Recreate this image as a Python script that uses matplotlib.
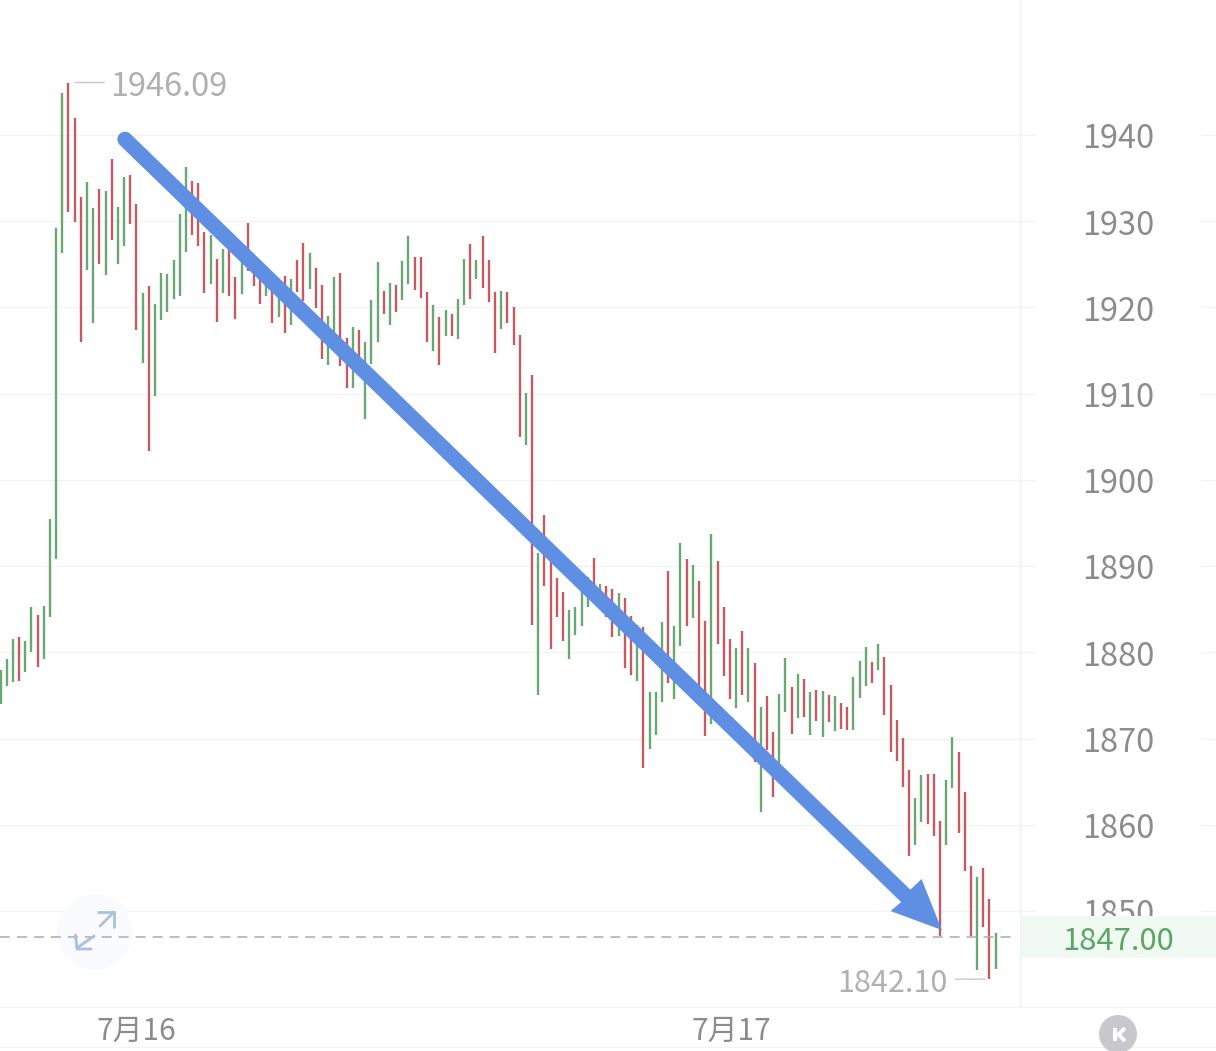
import matplotlib
matplotlib.use("Agg")
import matplotlib.pyplot as plt
from matplotlib.patches import Circle, Polygon, Rectangle
from matplotlib.transforms import Affine2D

plt.rcParams["font.family"] = ["Noto Sans CJK SC", "DejaVu Sans"]

# Precio: 162 barras de alto/bajo
highs = [
    1877.9, 1879.2, 1881.5, 1881.8, 1881.3, 1885.3, 1884.3, 1885.4, 1895.5, 1929.2,
    1944.9, 1946.09, 1942.0, 1932.8, 1934.6, 1931.5, 1933.7, 1933.5, 1937.2, 1931.7,
    1935.1, 1935.4, 1932.0, 1921.7, 1922.5, 1920.4, 1924.0, 1923.9, 1925.5, 1930.8,
    1936.3, 1934.7, 1934.4, 1928.8, 1928.4, 1925.6, 1926.8, 1926.8, 1923.5, 1925.3,
    1929.8, 1925.3, 1924.1, 1923.6, 1922.6, 1922.0, 1923.6, 1923.3, 1925.5, 1927.5,
    1926.3, 1924.6, 1922.6, 1919.0, 1923.5, 1924.0, 1916.5, 1917.7, 1917.4, 1916.0,
    1920.9, 1925.3, 1921.9, 1922.8, 1922.6, 1925.4, 1928.3, 1925.9, 1925.9, 1921.8,
    1920.3, 1918.9, 1919.7, 1919.2, 1921.0, 1925.6, 1927.4, 1925.5, 1928.3, 1925.5,
    1921.8, 1921.9, 1921.8, 1920.1, 1916.8, 1910.1, 1912.2, 1891.5, 1895.9, 1891.6,
    1888.6, 1887.0, 1884.9, 1885.3, 1887.8, 1888.7, 1890.9, 1887.9, 1887.7, 1887.4,
    1886.9, 1886.3, 1884.2, 1883.2, 1882.9, 1875.4, 1875.4, 1883.5, 1889.4, 1883.1,
    1892.7, 1890.8, 1890.1, 1888.3, 1883.6, 1893.7, 1890.6, 1885.3, 1881.6, 1880.5,
    1882.5, 1880.5, 1878.8, 1873.7, 1874.9, 1870.8, 1875.2, 1879.4, 1876.0, 1877.5,
    1876.9, 1875.4, 1875.6, 1875.5, 1875.1, 1874.9, 1874.1, 1873.7, 1877.1, 1879.0,
    1880.6, 1878.9, 1881.0, 1879.5, 1876.2, 1872.2, 1870.1, 1866.4, 1863.1, 1865.8,
    1865.9, 1865.9, 1860.4, 1865.2, 1870.2, 1868.4, 1863.8, 1855.2, 1853.9, 1855.0,
    1851.4, 1847.4,
]
lows = [
    1874.0, 1876.1, 1876.6, 1876.7, 1877.7, 1880.0, 1878.3, 1879.2, 1884.1, 1890.8,
    1926.3, 1931.1, 1929.9, 1916.0, 1924.3, 1918.2, 1925.0, 1923.8, 1927.8, 1925.0,
    1927.1, 1929.7, 1917.4, 1913.6, 1903.4, 1909.7, 1918.6, 1919.5, 1921.0, 1921.3,
    1926.4, 1928.4, 1927.1, 1921.7, 1922.7, 1918.3, 1921.7, 1921.3, 1918.7, 1921.6,
    1924.2, 1922.5, 1920.4, 1921.3, 1918.2, 1918.9, 1917.0, 1918.0, 1921.8, 1920.8,
    1922.1, 1919.9, 1914.0, 1913.3, 1916.8, 1913.2, 1910.7, 1910.7, 1913.9, 1907.1,
    1913.4, 1916.0, 1919.2, 1918.0, 1919.5, 1920.9, 1922.7, 1922.0, 1921.1, 1916.0,
    1915.0, 1913.3, 1916.7, 1916.7, 1916.3, 1920.3, 1921.0, 1923.3, 1922.3, 1920.6,
    1914.7, 1917.5, 1918.2, 1915.7, 1905.0, 1904.1, 1883.2, 1875.1, 1887.7, 1880.4,
    1884.1, 1881.3, 1879.2, 1882.0, 1883.1, 1885.3, 1887.2, 1885.5, 1884.1, 1881.8,
    1881.9, 1878.2, 1877.4, 1876.7, 1866.6, 1868.8, 1870.4, 1874.2, 1876.5, 1874.6,
    1880.7, 1883.1, 1884.0, 1873.9, 1870.3, 1871.7, 1881.0, 1877.3, 1874.6, 1873.6,
    1875.1, 1874.2, 1867.3, 1861.5, 1868.7, 1863.2, 1867.2, 1873.1, 1870.5, 1872.4,
    1872.5, 1870.4, 1872.0, 1870.2, 1871.9, 1870.9, 1871.1, 1871.0, 1871.0, 1874.7,
    1876.1, 1876.5, 1878.0, 1872.7, 1868.4, 1867.4, 1864.4, 1856.4, 1857.7, 1860.3,
    1860.1, 1858.7, 1847.1, 1857.7, 1864.3, 1859.1, 1854.6, 1847.1, 1843.2, 1848.1,
    1842.1, 1843.3,
]
# g = sube, r = baja
directions = (
    "gggrggrggg" "grrrggrgrg" "grrgrggggg" "grrrgrgrrg"
    "rrrgrgrgrr" "grrggrrgrg" "ggrgrggrrr" "grgrggrgrr"
    "rgrrrgrgrr" "rrggggrgrr" "grrgrgggrg" "grgrrgrrrg"
    "rgrgrrggrg" "rgrgrgrrgg" "grgrrrrrgg" "rrrggrrrgr"
    "rg"
)

gridPrices = [1940, 1930, 1920, 1910, 1900, 1890, 1880, 1870, 1860, 1850]
dateLabels = ["7月16", "7月17"]
dateBars = [21.9, 118.2]
lastPrice = 1847.00
maxPrice = 1946.09
minPrice = 1842.10
trendStart = (20.14, 1939.5)
trendTip = (152.3, 1847.8)

W, H = 1216, 1051
GREEN = "#6aa873"
RED = "#c65a63"
BLUE = "#5e8fe2"

fig = plt.figure(figsize=(W / 100, H / 100), dpi=100, facecolor="white")
ax = fig.add_axes([0, 0, 1, 1])
ax.set_xlim(-0.081, 196.65)
ax.set_ylim(1833.77, 1955.66)
ax.axis("off")

# coordenadas en pixeles con origen arriba, para los botones y la punta
px = Affine2D().scale(1, -1).translate(0, H)

# Cuadricula y ejes
for price in gridPrices:
    ax.plot([-0.081, 167.3], [price, price], color="#f2f2f2", lw=0.9, zorder=1)
    ax.plot([194.3, 196.65], [price, price], color="#f2f2f2", lw=0.9, zorder=1)
    ax.text(180.85, price - 0.5, str(price), ha="center", va="center",
            fontsize=23.4, color="#8c8c8c", zorder=2)
ax.plot([1020, 1020], [0, 1006], color="#f1f1f1", lw=0.9, transform=px, zorder=1)
ax.plot([0, W], [1006.5, 1006.5], color="#f1f1f1", lw=0.9, transform=px, zorder=1)
ax.plot([0, W], [1047, 1047], color="#f1f1f1", lw=0.9, transform=px, zorder=1)

# Boton de expandir
ax.add_patch(Circle((95, 932), 38, transform=px, color="#f9fbfe", lw=0, zorder=1))

# Barras
indices = list(range(len(highs)))
barColors = [GREEN if d == "g" else RED for d in directions]
ax.vlines(indices, lows, highs, colors=barColors, lw=1.7, zorder=3)

# Precio actual
ax.axhline(lastPrice, xmax=1013 / W, color="#ababab", lw=1.1,
           linestyle=(0, (6.5, 4.6)), zorder=4)
ax.add_patch(Rectangle((1021, 916), 195, 42, transform=px, color="#f1f9f3", lw=0, zorder=5))
ax.text(180.85, lastPrice - 0.5, f"{lastPrice:.2f}", ha="center", va="center",
        fontsize=22.4, color="#5aa765", zorder=6)

# Maximo y minimo
hiBar = highs.index(maxPrice)
loBar = lows.index(minPrice)
ax.annotate("", xy=(hiBar + 1.1, maxPrice), xytext=(hiBar + 5.8, maxPrice),
            arrowprops=dict(arrowstyle="-", color="#c9c9c9", lw=1.0, shrinkA=0, shrinkB=0))
ax.text(hiBar + 6.8, maxPrice - 0.55, f"{maxPrice:.2f}", ha="left", va="center",
        fontsize=23.4, color="#b0b0b0", zorder=6)
ax.annotate("", xy=(loBar - 0.7, minPrice), xytext=(loBar - 5.6, minPrice),
            arrowprops=dict(arrowstyle="-", color="#c9c9c9", lw=1.0, shrinkA=0, shrinkB=0))
ax.text(loBar - 6.8, minPrice - 0.55, f"{minPrice:.2f}", ha="right", va="center",
        fontsize=22, color="#b0b0b0", zorder=6)

# Fechas
for bar, label in zip(dateBars, dateLabels):
    ax.text(bar, 1836.1, label, ha="center", va="center", fontsize=21.5, color="#8c8c8c")

# Flecha de tendencia
tipX, tipY = ax.transData.transform(trendTip)
head = Affine2D().scale(1, -1).translate(tipX, tipY)
ax.plot([trendStart[0], trendTip[0] - 5.82], [trendStart[1], trendTip[1] + 3.94],
        color=BLUE, lw=11, solid_capstyle="round", zorder=7)
ax.add_patch(Polygon([(0, 0), (-20.3, -51), (-32, -40), (-40.3, -28.3), (-51.3, -19)],
                     closed=True, transform=head, color=BLUE, lw=0, zorder=7))

# Iconos de los botones
iconStyle = dict(color="#abbfe3", lw=2.0, transform=px, zorder=8,
                 solid_capstyle="round", solid_joinstyle="round")
ax.plot([100, 114], [926, 912], **iconStyle)
ax.plot([98, 114, 114], [912, 912, 927], **iconStyle)
ax.plot([94, 77], [936, 948], **iconStyle)
ax.plot([75.5, 77, 91], [935, 949, 949], **iconStyle)

ax.add_patch(Circle((1118, 1034), 19, transform=px, color="#c8c8cc", lw=0, zorder=8))
ax.plot([1114.5, 1114.5], [1028, 1040.5], color="white", lw=2.8, transform=px, zorder=9,
        solid_capstyle="butt")
ax.plot([1125, 1118.5, 1125], [1028, 1034.5, 1041], color="white", lw=2.8, transform=px,
        zorder=9, solid_capstyle="butt")

fig.savefig("out.png", dpi=100)
